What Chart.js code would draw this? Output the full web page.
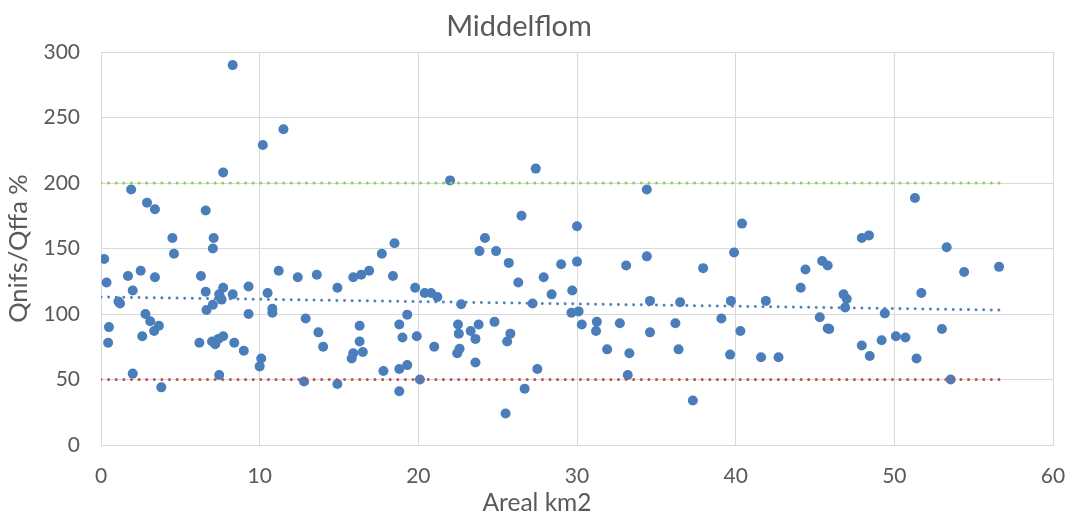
<!DOCTYPE html>
<html>
<head>
<meta charset="utf-8">
<style>
    body { margin: 0; background: #ffffff; }
    .chart-container { width: 1068px; height: 515px; }
</style>
</head>
<body>
<div class="chart-container">
    <canvas id="middelflomChart" width="1068" height="515"></canvas>
</div>

<script src="https://cdn.jsdelivr.net/npm/chart.js"></script>
<script>
    // Areal (km2) og Qnifs/Qffa (%) for hvert felt
    const arealKm2 = [
        8.3, 11.5, 10.2, 7.7, 1.9, 2.9, 3.4, 6.6, 4.5, 7.1, 7.05, 4.6, 0.2, 2.5, 11.2, 1.7,
        3.4, 6.3, 12.4, 13.6, 0.35, 2.0, 6.6, 7.7, 7.45, 7.6, 8.3, 9.3, 10.5, 14.9, 1.1, 1.2,
        7.05, 6.65, 10.8, 10.8, 2.8, 9.3, 3.1, 3.65, 3.35, 0.5, 12.9, 13.7, 14.0, 0.45, 2.6,
        6.2, 7.0, 7.2, 7.4, 7.7, 8.4, 9.0, 10.1, 10.0, 2.0, 7.45, 12.8, 14.9, 3.8, 7.5,
        15.9, 16.4, 16.9, 17.7, 18.5, 18.4, 19.8, 20.4, 20.8, 21.2, 22.0, 27.4, 26.5, 30.0,
        24.2, 23.85, 24.9, 25.7, 26.3, 27.9, 29.0, 30.0, 29.7, 28.4, 27.2, 22.7, 29.65, 30.1,
        30.3, 19.3, 16.3, 18.8, 16.3, 19.0, 19.9, 15.8, 15.9, 16.5, 21.0, 22.5, 22.55, 23.3,
        23.8, 23.6, 22.6, 22.45, 23.6, 24.8, 25.8, 25.6, 17.8, 18.8, 19.3, 20.1, 18.8, 27.5,
        26.7, 25.5,
        34.4, 40.4, 34.4, 33.1, 39.9, 37.95, 34.6, 36.5, 39.7, 41.9, 31.25, 31.2, 32.7, 34.6,
        36.2, 39.1, 40.3, 31.9, 33.3, 36.4, 39.65, 41.6, 42.7, 33.2, 37.3, 44.1, 44.4, 45.45,
        45.8, 45.3, 45.8,
        45.9, 47.95, 48.4, 51.3, 53.3, 54.4, 56.6, 46.8, 47.0, 46.9, 49.4, 51.7, 47.95, 48.45,
        49.2, 50.1, 50.7, 53.0, 51.4, 53.55
    ];
    const qPercent = [
        290, 241, 229, 208, 195, 185, 180, 179, 158, 158, 150, 146, 142, 133, 133, 129,
        128, 129, 128, 130, 124, 118, 117, 120, 115, 111, 115, 121, 116, 120, 109.5, 108,
        107, 103, 104, 101, 100, 100, 94.5, 91, 87, 90, 96.5, 86, 75, 78, 83,
        78, 79, 77, 81, 83, 78, 72, 66, 60, 54.5, 53.5, 48.5, 46.5, 44, 113,
        128, 130, 133, 146, 154, 129, 120, 116, 116, 113, 202, 211, 175, 167,
        158, 148, 148, 139, 124, 128, 138, 140, 118, 115, 108, 107.5, 101, 102,
        92, 99.5, 91, 92, 79, 82, 83, 66, 70, 71, 75, 92, 85, 87,
        92, 81, 73.5, 70, 63, 94, 85, 79, 56.5, 58, 61, 50, 41, 58,
        43, 24,
        195, 169, 144, 137, 147, 135, 110, 109, 110, 110, 94, 87, 93, 86,
        93, 96.5, 87, 73, 70, 73, 69, 67, 67, 53.5, 34, 120, 134, 140.5,
        137, 97.5, 89,
        88.5, 158, 160, 188.5, 151, 132, 136, 115, 111.5, 105, 100.5, 116, 76, 68,
        80, 83, 82, 88.5, 66, 50
    ];

    // Lineær trend og grenser (lest av figuren)
    const trendX = [0, 56.6];
    const trendY = [113, 103];
    const limitX = [0, 56.6];
    const upperLimit = [200, 200];
    const lowerLimit = [50, 50];

    const xTicks = [0, 10, 20, 30, 40, 50, 60];
    const yTicks = [0, 50, 100, 150, 200, 250, 300];

    const chartTitle = 'Middelflom';
    const xTitle = 'Areal km2';
    const yTitle = 'Qnifs/Qffa %';

    const pairs = (xs, ys) => xs.map((x, i) => ({ x: x, y: ys[i] }));

    const gridColor = '#d9d9d9';
    const textColor = '#595959';
    const fontFamily = 'Lato, "Open Sans", sans-serif';

    function dottedLine(label, data, color, order) {
        return {
            type: 'line',
            label: label,
            data: data,
            borderColor: color,
            borderWidth: 3,
            borderDash: [0.01, 7.6],
            borderCapStyle: 'round',
            pointRadius: 0,
            fill: false,
            tension: 0,
            order: order
        };
    }

    // Excel plasserer diagramtittel og x-aksetittel fritt, ikke midt over plottet
    const freeTitles = {
        id: 'freeTitles',
        afterDraw(chart) {
            const c = chart.ctx;
            c.save();
            c.fillStyle = textColor;
            c.textAlign = 'center';
            c.textBaseline = 'middle';
            c.font = `29px ${fontFamily}`;
            c.fillText(chartTitle, 519, 27);
            c.font = `24.5px ${fontFamily}`;
            c.fillText(xTitle, 537, 503);
            c.restore();
        }
    };

    const ctx = document.getElementById('middelflomChart').getContext('2d');
    new Chart(ctx, {
        type: 'scatter',
        data: {
            datasets: [
                dottedLine('Øvre grense', pairs(limitX, upperLimit), '#92d050', 1),
                dottedLine('Nedre grense', pairs(limitX, lowerLimit), '#c0504d', 2),
                dottedLine('Trend', pairs(trendX, trendY), '#4f81bd', 3),
                {
                    label: 'Middelflom',
                    data: pairs(arealKm2, qPercent),
                    backgroundColor: '#4a7ebb',
                    borderWidth: 0,
                    pointRadius: 5,
                    pointHoverRadius: 5,
                    order: 4
                }
            ]
        },
        options: {
            responsive: false,
            animation: false,
            layout: { padding: { left: 0, right: 15, top: 52, bottom: 0 } },
            scales: {
                x: {
                    type: 'linear',
                    min: 0,
                    max: 60,
                    afterBuildTicks: (scale) => { scale.ticks = xTicks.map(v => ({ value: v })); },
                    afterFit: (scale) => {
                        scale.height = 70;
                        scale.paddingLeft = 0;
                        scale.paddingRight = 0;
                    },
                    grid: { color: gridColor, lineWidth: 1, drawTicks: false },
                    border: { color: gridColor },
                    ticks: { color: textColor, font: { family: fontFamily, size: 21 }, padding: 19, maxRotation: 0 },
                    title: { display: false }
                },
                y: {
                    type: 'linear',
                    min: 0,
                    max: 300,
                    afterBuildTicks: (scale) => { scale.ticks = yTicks.map(v => ({ value: v })); },
                    afterFit: (scale) => {
                        scale.width = 101;
                        scale.paddingTop = 0;
                        scale.paddingBottom = 0;
                    },
                    grid: { color: gridColor, lineWidth: 1, drawTicks: false },
                    border: { color: gridColor },
                    ticks: { color: textColor, font: { family: fontFamily, size: 21 }, padding: 21 },
                    title: {
                        display: true,
                        text: yTitle,
                        color: textColor,
                        font: { family: fontFamily, size: 25.5, lineHeight: 1 },
                        padding: { top: 6, bottom: 0 }
                    }
                }
            },
            plugins: {
                legend: { display: false },
                tooltip: { enabled: false },
                title: { display: false }
            }
        },
        plugins: [freeTitles]
    });
</script>
</body>
</html>
